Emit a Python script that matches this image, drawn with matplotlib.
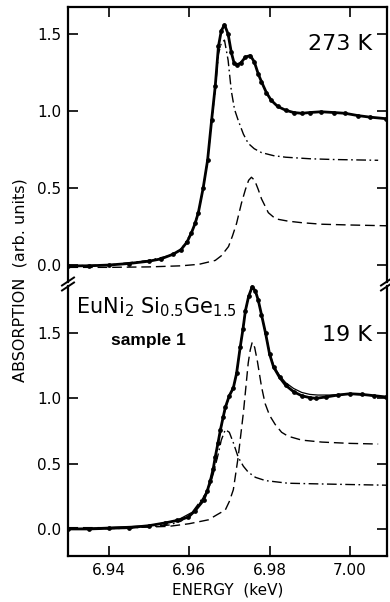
import matplotlib
matplotlib.use('Agg')
import matplotlib.pyplot as plt
from matplotlib.lines import Line2D

plt.rcParams['font.family'] = ['DejaVu Sans']
plt.rcParams['mathtext.default'] = 'regular'
plt.rcParams['lines.scale_dashes'] = False

# ---- 273 K (upper panel) ----
e_top = [6.930, 6.935, 6.940, 6.945, 6.950, 6.953, 6.956, 6.958, 6.9595, 6.9606,
         6.9615, 6.9623, 6.9635, 6.9646, 6.9656, 6.9665, 6.9673, 6.9680, 6.9688, 6.9697,
         6.9705, 6.9712, 6.9718, 6.9728, 6.9740, 6.9752, 6.9762, 6.9772, 6.9780, 6.9792,
         6.9804, 6.9820, 6.9840, 6.9860, 6.9880, 6.9900, 6.9928, 6.9960, 6.9988, 7.0020,
         7.0050, 7.0090]
abs_top = [-0.005, -0.005, 0.0, 0.01, 0.025, 0.04, 0.07, 0.10, 0.15, 0.21,
           0.27, 0.34, 0.50, 0.68, 0.94, 1.16, 1.42, 1.52, 1.56, 1.50,
           1.38, 1.31, 1.30, 1.31, 1.35, 1.36, 1.32, 1.24, 1.19, 1.12,
           1.07, 1.03, 1.005, 0.99, 0.985, 0.99, 0.995, 0.99, 0.985, 0.97,
           0.96, 0.95]

e_top_dd = [6.930, 6.940, 6.950, 6.955, 6.958, 6.9606, 6.9623, 6.9635, 6.9646, 6.9656,
            6.9665, 6.9673, 6.9680, 6.9688, 6.9697, 6.9705, 6.9713, 6.9722, 6.9735, 6.9747,
            6.9762, 6.9780, 6.9810, 6.9840, 6.9900, 6.9960, 7.0070]
dd_top = [-0.005, 0.0, 0.03, 0.06, 0.10, 0.21, 0.34, 0.50, 0.68, 0.93,
          1.14, 1.37, 1.44, 1.46, 1.33, 1.13, 1.01, 0.94, 0.85, 0.79,
          0.755, 0.73, 0.71, 0.70, 0.69, 0.685, 0.68]

e_top_da = [6.930, 6.940, 6.950, 6.958, 6.9625, 6.9665, 6.9680, 6.9698, 6.9708, 6.9718,
            6.9730, 6.9740, 6.9748, 6.9755, 6.9763, 6.9772, 6.9780, 6.9797, 6.9815, 6.9846,
            6.9880, 6.9930, 7.0000, 7.0090]
da_top = [-0.015, -0.015, -0.012, -0.005, 0.005, 0.03, 0.06, 0.12, 0.19, 0.27,
          0.40, 0.49, 0.55, 0.57, 0.55, 0.49, 0.43, 0.34, 0.30, 0.285,
          0.275, 0.265, 0.26, 0.255]

# ---- 19 K (lower panel) ----
e_bot = [6.930, 6.935, 6.940, 6.945, 6.950, 6.954, 6.957, 6.9598, 6.9615, 6.9636,
         6.9645, 6.9653, 6.9660, 6.9665, 6.9672, 6.9678, 6.9685, 6.9690, 6.9700, 6.9710,
         6.9718, 6.9727, 6.9734, 6.9740, 6.9748, 6.9757, 6.9765, 6.9772, 6.9780, 6.9790,
         6.9800, 6.9810, 6.9825, 6.9840, 6.9860, 6.9880, 6.9900, 6.9915, 6.9940, 6.9970,
         7.0000, 7.0030, 7.0060, 7.0090]
abs_bot = [0.0, 0.0, 0.005, 0.01, 0.025, 0.046, 0.065, 0.09, 0.14, 0.22,
           0.29, 0.37, 0.46, 0.55, 0.66, 0.76, 0.86, 0.93, 1.02, 1.08,
           1.19, 1.39, 1.53, 1.67, 1.78, 1.855, 1.82, 1.75, 1.64, 1.50,
           1.34, 1.24, 1.16, 1.10, 1.05, 1.02, 1.005, 1.00, 1.01, 1.025,
           1.035, 1.03, 1.02, 1.01]

e_bot_fit = [6.930, 6.950, 6.957, 6.9615, 6.9645, 6.9660, 6.9672, 6.9685, 6.9700, 6.9710,
             6.9718, 6.9727, 6.9740, 6.9748, 6.9757, 6.9765, 6.9772, 6.9780, 6.9790, 6.9800,
             6.9810, 6.9825, 6.9840, 6.9860, 6.9880, 6.9900, 6.9920, 6.9950, 6.9980, 7.0010,
             7.0040, 7.0070, 7.0090]
fit_bot = [0.0, 0.025, 0.065, 0.14, 0.29, 0.46, 0.66, 0.86, 1.02, 1.08,
           1.19, 1.39, 1.67, 1.78, 1.855, 1.82, 1.75, 1.64, 1.50, 1.35,
           1.25, 1.175, 1.12, 1.075, 1.045, 1.03, 1.025, 1.025, 1.03, 1.03,
           1.025, 1.015, 1.01]

e_bot_da = [6.930, 6.945, 6.955, 6.960, 6.9648, 6.9670, 6.9690, 6.9700, 6.9710, 6.9722,
            6.9735, 6.9747, 6.9752, 6.9757, 6.9763, 6.9770, 6.9780, 6.9789, 6.9800, 6.9814,
            6.9830, 6.9846, 6.9880, 6.9930, 7.0000, 7.0070]
da_bot = [0.01, 0.01, 0.02, 0.04, 0.07, 0.11, 0.145, 0.21, 0.30, 0.55,
          0.89, 1.27, 1.37, 1.43, 1.39, 1.28, 1.09, 0.96, 0.87, 0.80,
          0.74, 0.71, 0.68, 0.665, 0.655, 0.65]

e_bot_dd = [6.930, 6.945, 6.955, 6.958, 6.9606, 6.9625, 6.9648, 6.9660, 6.9673, 6.9680,
            6.9690, 6.9700, 6.9710, 6.9722, 6.9735, 6.9747, 6.9765, 6.9790, 6.9846, 6.9920,
            7.0000, 7.0090]
dd_bot = [0.0, 0.005, 0.03, 0.06, 0.12, 0.20, 0.30, 0.42, 0.58, 0.68,
          0.76, 0.74, 0.66, 0.55, 0.48, 0.435, 0.395, 0.37, 0.35, 0.345,
          0.34, 0.335]

x_ticks = [6.94, 6.96, 6.98, 7.00]
x_ticklabels = ['6.94', '6.96', '6.98', '7.00']
y_ticks = [0.0, 0.5, 1.0, 1.5]
y_ticklabels = ['0.0', '0.5', '1.0', '1.5']

# layout in pixels
W, H = 390, 602
L, R = 68, 387
TOP, MID, BOT = 7, 284, 556

fig = plt.figure(figsize=(W / 100, H / 100), dpi=100)
ax1 = fig.add_axes([L / W, 1 - MID / H, (R - L) / W, (MID - TOP) / H])
ax2 = fig.add_axes([L / W, 1 - BOT / H, (R - L) / W, (BOT - MID) / H])

DASH = (0, (7, 3.5))
DASHDOT = (0, (7, 2.5, 1.2, 2.5))

# upper panel
ax1.plot(e_top_dd, dd_top, color='black', lw=1.0, ls=DASHDOT)
ax1.plot(e_top_da, da_top, color='black', lw=1.0, ls=DASH)
ax1.plot(e_top, abs_top, color='black', lw=2.0, marker='o', ms=2.4)
ax1.set_ylim(-0.123, 1.675)

# lower panel
ax2.plot(e_bot_dd, dd_bot, color='black', lw=1.0, ls=DASHDOT)
ax2.plot(e_bot_da, da_bot, color='black', lw=1.0, ls=DASH)
ax2.plot(e_bot, abs_bot, color='black', lw=2.0, marker='o', ms=2.4)
ax2.plot(e_bot_fit, fit_bot, color='black', lw=0.9)
ax2.set_ylim(-0.207, 1.875)

for ax in (ax1, ax2):
    ax.set_xlim(6.9299, 7.0092)
    ax.set_xticks(x_ticks)
    ax.set_yticks(y_ticks)
    ax.set_yticklabels(y_ticklabels, fontsize=11)
    ax.tick_params(direction='in', length=7, width=1.2, right=True, pad=5)
    for s in ax.spines.values():
        s.set_linewidth(1.6)

ax1.spines['bottom'].set_visible(False)
ax1.tick_params(axis='x', bottom=False, labelbottom=False, top=True)
ax1.spines['left'].set_bounds(-0.11, 1.675)
ax1.spines['right'].set_bounds(-0.11, 1.675)

ax2.spines['top'].set_visible(False)
ax2.set_xticklabels(x_ticklabels, fontsize=11)
ax2.tick_params(axis='x', pad=5)
ax2.spines['left'].set_bounds(-0.207, 1.86)
ax2.spines['right'].set_bounds(-0.207, 1.86)

# break marks on both spines
def px(x, y):
    return x / W, 1 - y / H

for xc in (L, R):
    for dy in (-2.5, 2.5):
        (x0, y0), (x1, y1) = px(xc - 6, MID + dy + 4), px(xc + 6, MID + dy - 4)
        fig.add_artist(Line2D([x0, x1], [y0, y1], color='black', lw=1.4,
                              transform=fig.transFigure))

# annotations
fig.text(372 / W, 1 - 44 / H, '273 K', fontsize=16, ha='right', va='center')
fig.text(372 / W, 1 - 335 / H, '19 K', fontsize=16, ha='right', va='center')
fig.text(76 / W, 1 - 313 / H, r'EuNi$_2$ Si$_{0.5}$Ge$_{1.5}$', fontsize=15,
         ha='left', va='baseline')
fig.text(148 / W, 1 - 340 / H, 'sample 1', fontsize=12.5, fontweight='bold',
         family=['Liberation Sans', 'DejaVu Sans'], ha='center', va='center')

fig.text(20 / W, 1 - 280 / H, 'ABSORPTION  (arb. units)', fontsize=11.5,
         rotation=90, ha='center', va='center')
fig.text(228 / W, 1 - 590 / H, 'ENERGY  (keV)', fontsize=11, ha='center', va='center')

fig.savefig('out.png', dpi=100)
